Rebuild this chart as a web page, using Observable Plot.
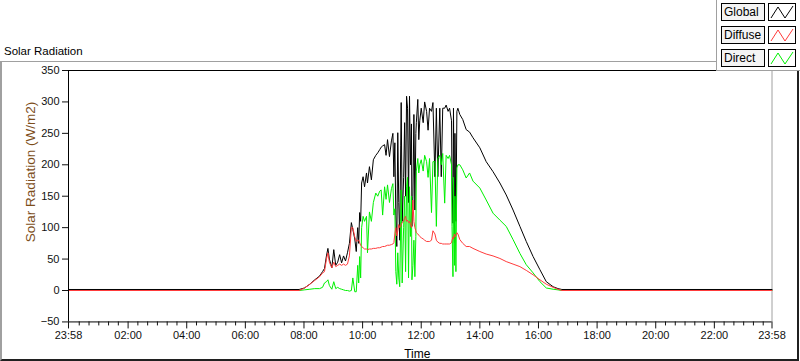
<!DOCTYPE html>
<html><head><meta charset="utf-8">
<script src="https://cdn.jsdelivr.net/npm/d3@7"></script>
<script src="https://cdn.jsdelivr.net/npm/@observablehq/plot@0.6"></script>
<style>
body{margin:0;background:#fff;font-family:"Liberation Sans",Arial,sans-serif;}
#wrap{position:relative;width:800px;height:361px;overflow:hidden;background:#fff;}
#frame{position:absolute;left:0;top:61px;width:795px;height:297px;border-top:1px solid #a0a0a0;border-left:2px solid #a0a0a0;border-right:2px solid #202020;border-bottom:2px solid #202020;}
#title{position:absolute;left:4px;top:45px;font-size:11.5px;line-height:12px;color:#000;}
#ylab{position:absolute;left:31px;top:172px;width:0;height:0;}
#ylab span{position:absolute;left:0;top:0;transform:translate(-50%,-50%) rotate(-90deg);white-space:nowrap;font-size:13.5px;line-height:14px;color:#7d4e1b;}
#chart{position:absolute;left:0;top:0;}
#legend{position:absolute;left:716px;top:0;width:84px;height:70px;background:#fff;border-left:1px solid #a0a0a0;border-bottom:1px solid #a0a0a0;}
.lab{position:absolute;left:4px;width:40px;height:16px;border:1px solid #000;background:#f4f4f4;font-size:12px;line-height:16px;padding-left:2px;box-sizing:content-box;}
.ico{position:absolute;left:51px;width:26px;height:16px;border:1px solid #000;background:#fff;}
</style></head>
<body>
<div id="wrap">
  <div id="frame"></div>
  <div id="title">Solar Radiation</div>
  <div id="chart"></div>
  <div id="ylab"><span>Solar Radiation (W/m2)</span></div>
  <div id="legend"></div>
</div>
<script>
// minutes after midnight (−2 = 23:58 of the previous day)
const times = [-2,470,481,492,502,512,518,522,526,529,532,537,541,545,549,553,557,561,565,569,573,577,580,584,587,590,592,594,596,598,601,604,608,610,614,618,622,627,631,635,638,641,645,648,651,655,659,662,664,666,668,670,672,674,676,678,679,681,684,686,688,690,692,694,696,698,700,701,703,705,707,709,710,713,715,717,720,724,727,731,734,737,741,744,748,751,754,758,761,764,768,771,775,778,782,783,785,786,788,789,791,793,795,799,805,812,819,826,840,853,867,881,894,908,922,935,949,963,976,990,1000,1008,1438];
const globalW = [1.6,1.6,4,10,17,23,30,35,55,67,50,36,65,40,45,57,44,55,47,60,75,108,97,82,62,100,75,124,110,171,181,165,187,171,197,176,208,215,219,224,228,230,232,215,240,213,238,250,181,235,120,70,251,140,80,230,299,110,180,267,150,309,290,140,309,200,265,102,150,280,128,250,267,304,240,270,290,267,300,285,255,290,285,299,181,290,181,290,181,290,290,295,285,290,270,180,107,290,76,250,110,285,290,280,272,256,252,243,227,205,189,171,152,128,102,78,54,33,14,6,3,1.6,1.6];
const diffuseW = [0,0,4,10,16,22,28,30,50,60,45,36,45,38,40,42,40,42,40,42,55,100,100,85,78,80,80,76,72,70,68,66,66,65,66,66,67,67,68,68,69,70,70,71,72,72,73,74,76,90,100,87,95,105,100,102,105,108,110,115,118,110,112,108,110,105,100,105,144,110,100,95,92,90,88,86,84,82,80,78,78,78,80,95,90,80,77,75,75,74,74,74,74,74,76,80,85,82,90,85,88,92,90,81,75,70,70,67,62,58,55,51,46,42,38,32,25,17,10,5,2,0,0];
const directW = [0,0,1,2,3,3,5,12,14,17,8,2,14,3,5,3,2,1,0,0,-1,0,20,-2,-2,40,12,54,20,100,118,110,118,60,125,110,140,155,150,158,160,120,165,145,168,140,162,170,120,130,30,10,60,20,6,110,160,12,100,150,30,165,180,20,165,86,150,17,40,80,22,86,190,210,187,200,208,190,215,205,180,210,124,205,205,102,210,215,200,218,139,215,210,215,200,102,22,180,40,150,30,195,200,200,192,179,187,174,163,144,123,112,102,81,59,41,28,14,4,2,1,0,0];

const seriesNames = ["Global", "Diffuse", "Direct"];
const seriesColors = ["#000000", "#ff3b3b", "#00f000"];
const yTicks = [-50, 0, 50, 100, 150, 200, 250, 300, 350];
const xMajorTicks = [-2, 120, 240, 360, 480, 600, 720, 840, 960, 1080, 1200, 1320, 1438];
const xMajorLabels = ["23:58","02:00","04:00","06:00","08:00","10:00","12:00","14:00","16:00","18:00","20:00","22:00","23:58"];
const xMinorTicks = d3.range(20, 1438, 20).filter(m => m % 120 !== 0);

const rows = times.map((t, i) => ({t, g: globalW[i], d: diffuseW[i], r: directW[i]}));
const labelOf = new Map(xMajorTicks.map((t, i) => [t, xMajorLabels[i]]));

const chart = Plot.plot({
  width: 800, height: 361,
  marginLeft: 68, marginRight: 28.5, marginTop: 70, marginBottom: 39.57,
  x: {domain: [-2, 1438], axis: null},
  y: {domain: [-50, 350], axis: null},
  style: {fontFamily: "Liberation Sans, Arial, sans-serif", fontSize: "11px", background: "transparent", color: "#111"},
  marks: [
    Plot.ruleY([350], {stroke: "#000"}),
    Plot.ruleX([1438], {stroke: "#a0a0a0"}),
    Plot.line(rows, {x: "t", y: "g", stroke: seriesColors[0], strokeWidth: 1}),
    Plot.line(rows, {x: "t", y: "r", stroke: seriesColors[2], strokeWidth: 1}),
    Plot.line(rows, {x: "t", y: "d", stroke: seriesColors[1], strokeWidth: 1}),
    Plot.ruleX([-2], {stroke: "#000"}),
    Plot.ruleY([-50], {stroke: "#000"}),
    Plot.axisY(yTicks, {anchor: "left", tickSize: 6, tickPadding: 3, label: null}),
    Plot.axisX(xMinorTicks, {anchor: "bottom", tickSize: 4, tickFormat: () => "", label: null}),
    Plot.axisX(xMajorTicks, {anchor: "bottom", tickSize: 7, tickPadding: 2, tickFormat: d => labelOf.get(d), label: null}),
    Plot.text(["Time"], {frameAnchor: "bottom", dx: -3, dy: 36, fontSize: 12, fill: "#000", lineAnchor: "bottom"})
  ]
});
document.getElementById("chart").appendChild(chart);

// legend
const legend = document.getElementById("legend");
const tops = [3, 26, 49];
seriesNames.forEach((name, i) => {
  const lab = document.createElement("div");
  lab.className = "lab";
  lab.style.top = tops[i] + "px";
  lab.textContent = name;
  legend.appendChild(lab);
  const ico = document.createElement("div");
  ico.className = "ico";
  ico.style.top = tops[i] + "px";
  ico.innerHTML = `<svg width="26" height="16"><polyline points="2,14 9,3 16,14 24,2" fill="none" stroke="${seriesColors[i]}" stroke-width="1"/></svg>`;
  legend.appendChild(ico);
});
</script>
</body></html>
